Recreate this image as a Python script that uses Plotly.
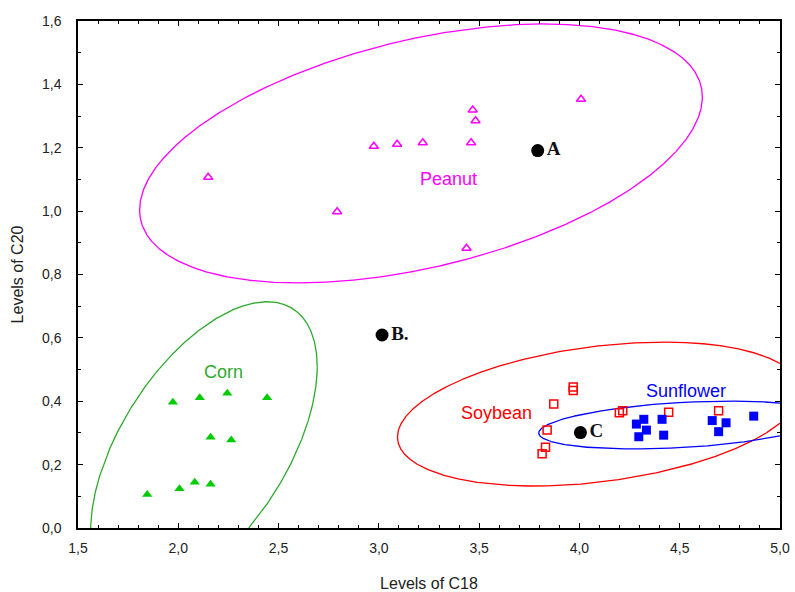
import numpy as np
import plotly.graph_objects as go

# ---- data ----
peanut_x = [2.149, 2.792, 2.975, 3.091, 3.219, 3.460, 3.468, 3.482, 4.008, 3.437]
peanut_y = [1.107, 0.998, 1.205, 1.211, 1.216, 1.216, 1.319, 1.285, 1.353, 0.883]

corn_x = [1.973, 2.107, 2.244, 2.443, 2.161, 2.264, 1.845, 2.006, 2.082, 2.161]
corn_y = [0.397, 0.411, 0.425, 0.411, 0.286, 0.278, 0.106, 0.124, 0.144, 0.138]

soybean_x = [3.969, 3.969, 3.872, 3.839, 3.831, 3.814, 4.199, 4.216, 4.445, 4.694]
soybean_y = [0.445, 0.434, 0.391, 0.309, 0.255, 0.234, 0.364, 0.370, 0.365, 0.370]

sunflower_x = [4.284, 4.321, 4.334, 4.296, 4.412, 4.420, 4.662, 4.731, 4.694, 4.869]
sunflower_y = [0.328, 0.343, 0.309, 0.288, 0.343, 0.293, 0.339, 0.332, 0.304, 0.353]

sample_names = ["A", "B.", "C"]
sample_x = [3.792, 3.016, 4.005]
sample_y = [1.191, 0.609, 0.301]

# confidence ellipses: centre x, centre y, half-width x, half-height y, correlation
ellipse_names = ["Peanut", "Corn", "Soybean", "Sunflower"]
ellipse_cx = [3.210, 2.128, 4.097, 4.510]
ellipse_cy = [1.182, 0.2515, 0.3597, 0.325]
ellipse_wx = [1.403, 0.5648, 1.0045, 0.713]
ellipse_hy = [0.4087, 0.4626, 0.2272, 0.0757]
ellipse_r = [0.436, 0.557, 0.319, 0.333]

x_range = [1.5, 5.0]
y_range = [0.0, 1.6]
x_ticks = [1.5, 2.0, 2.5, 3.0, 3.5, 4.0, 4.5, 5.0]
y_ticks = [0.0, 0.2, 0.4, 0.6, 0.8, 1.0, 1.2, 1.4, 1.6]

# ---- styles ----
MAGENTA = "#FF00FF"
GREEN_M = "#00CC00"
GREEN_L = "#2EAA2E"
RED = "#FF0000"
BLUE = "#0000FF"
ell_colors = [MAGENTA, GREEN_L, RED, BLUE]

fig = go.Figure()

t = np.linspace(0, 2 * np.pi, 4000)
for name, cx, cy, w, h, r, col in zip(ellipse_names, ellipse_cx, ellipse_cy,
                                      ellipse_wx, ellipse_hy, ellipse_r, ell_colors):
    ex = cx + w * np.cos(t)
    ey = cy + r * h * np.cos(t) + h * np.sqrt(1 - r * r) * np.sin(t)
    outside = (ex < x_range[0]) | (ex > x_range[1]) | (ey < y_range[0]) | (ey > y_range[1])
    ex = np.where(outside, np.nan, ex)
    ey = np.where(outside, np.nan, ey)
    fig.add_trace(go.Scatter(x=ex, y=ey, mode="lines", name=name + " ellipse",
                             cliponaxis=True, connectgaps=False,
                             line=dict(color=col, width=1.3), hoverinfo="skip"))

fig.add_trace(go.Scatter(x=peanut_x, y=peanut_y, mode="markers", name="Peanut",
                         marker=dict(symbol="triangle-up-open", size=8, color=MAGENTA,
                                     line=dict(width=1.5, color=MAGENTA))))
fig.add_trace(go.Scatter(x=corn_x, y=corn_y, mode="markers", name="Corn",
                         marker=dict(symbol="triangle-up", size=9, color=GREEN_M)))
fig.add_trace(go.Scatter(x=soybean_x, y=soybean_y, mode="markers", name="Soybean",
                         marker=dict(symbol="square-open", size=8, color=RED,
                                     line=dict(width=1.5, color=RED))))
fig.add_trace(go.Scatter(x=sunflower_x, y=sunflower_y, mode="markers", name="Sunflower",
                         marker=dict(symbol="square", size=9, color=BLUE)))
fig.add_trace(go.Scatter(x=sample_x, y=sample_y, mode="markers+text", name="Samples",
                         text=["<b>" + s + "</b>" for s in sample_names],
                         textposition="middle right",
                         textfont=dict(family="Liberation Serif", size=19, color="#111111"),
                         marker=dict(symbol="circle", size=13, color="black")))

label_font = "Liberation Sans, Arial, sans-serif"
labels = [("Peanut", 3.348, 1.100, MAGENTA),
          ("Corn", 2.227, 0.493, GREEN_L),
          ("Soybean", 3.586, 0.362, RED),
          ("Sunflower", 4.533, 0.433, BLUE)]
for txt, lx, ly, col in labels:
    fig.add_annotation(x=lx, y=ly, text=txt, showarrow=False,
                       font=dict(family=label_font, size=18, color=col))

axis_common = dict(
    showline=True, linecolor="black", linewidth=1.5, mirror="ticks",
    ticks="inside", ticklen=5, tickwidth=1, tickcolor="black",
    showgrid=False, zeroline=False, tickformat=".1f", automargin=False,
    tickfont=dict(family=label_font, size=14, color="#222222"),
    minor=dict(ticks="inside", ticklen=3, tickcolor="black", showgrid=False),
)

fig.update_layout(
    width=795, height=592,
    margin=dict(l=78, r=15, t=21, b=64),
    paper_bgcolor="white", plot_bgcolor="white",
    showlegend=False,
    separators=", ",
    font=dict(family=label_font),
    xaxis=dict(range=x_range, tickvals=x_ticks, ticklabelstandoff=6,
               title=dict(text="Levels of C18", standoff=24,
                          font=dict(family=label_font, size=16, color="#222222")),
               **axis_common),
    yaxis=dict(range=y_range, tickvals=y_ticks, ticklabelstandoff=12,
               title=dict(text="Levels of C20", standoff=14,
                          font=dict(family=label_font, size=16, color="#222222")),
               **axis_common),
)
fig.update_xaxes(minor_dtick=0.1)
fig.update_yaxes(minor_dtick=0.1)

fig.write_html("out.html")
